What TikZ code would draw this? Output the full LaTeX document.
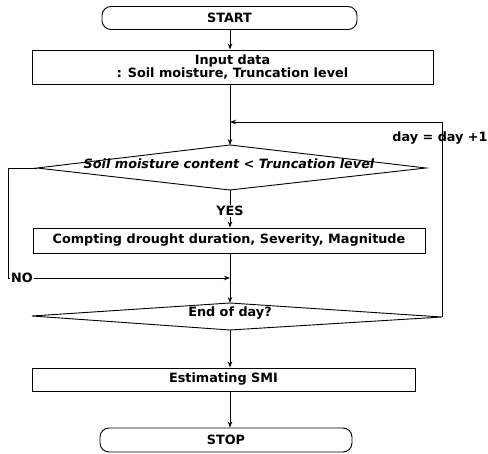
\documentclass[tikz,border=0pt]{standalone}
\usepackage{fontspec}
\setmainfont{DejaVu Sans}
\usetikzlibrary{arrows.meta}
\begin{document}
\begin{tikzpicture}[x=1pt,y=-1pt,line width=0.9pt,
  txt/.style={font=\bfseries\fontsize{12.8}{15}\selectfont,inner sep=1pt},
  box/.style={draw,txt,inner sep=0pt},
  term/.style={draw,txt,rounded corners=9pt,inner sep=0pt},
  arr/.style={-{Stealth[length=6pt,width=4.5pt]}},
  lab/.style={txt,fill=white,inner sep=1.5pt}]
\fill[white] (0,0) rectangle (488,454);
\useasboundingbox (0,0) rectangle (488,454);
% terminals and boxes
\node[term,minimum width=255pt,minimum height=23pt] (start) at (229.5,18) {START};
\node[box,minimum width=401pt,minimum height=34pt,align=center] (input) at (232.5,67) {Input data\\[-1.5pt]: Soil moisture, Truncation level};
\node[box,minimum width=392pt,minimum height=25pt] (comp) at (229,240.5) {Compting drought duration, Severity, Magnitude};
\node[box,minimum width=383pt,minimum height=23pt] (est) at (223.5,379.5) {Estimating SMI};
\node[term,minimum width=252pt,minimum height=24pt] (stop) at (226,440) {STOP};
% decision 1
\coordinate (d1t) at (230,145);
\coordinate (d1r) at (426,168);
\coordinate (d1b) at (230,190);
\coordinate (d1l) at (37,168);
\draw (d1t) -- (d1r) -- (d1b) -- (d1l) -- cycle;
\node[txt,font=\bfseries\itshape\fontsize{12.8}{15}\selectfont] (d1) at (229,164) {Soil moisture content < Truncation level};
% decision 2
\coordinate (d2t) at (230,303);
\coordinate (d2r) at (442,317);
\coordinate (d2b) at (230,330);
\coordinate (d2l) at (32,316);
\draw (d2t) -- (d2r) -- (d2b) -- (d2l) -- cycle;
\node[txt] (d2) at (230,313) {End of day?};
% helper coordinates
\coordinate (j1) at (230,122);
\coordinate (lr) at (442,122);
\coordinate (j2) at (230,278);
\coordinate (nl) at (8,168);
\coordinate (nb) at (8,278);
% connectors
\draw[arr] (start.south -| d1t) -- (input.north -| d1t);
\draw[arr] (input.south -| d1t) -- (d1t);
\draw[arr] (d2r) -- (lr) -- (j1);
\draw[arr] (d1b) -- (comp.north -| d1b);
\draw[arr] (comp.south -| d2t) -- (d2t);
\draw[arr] (d1l) -- (nl) -- (nb) -- (j2);
\draw[arr] (d2b) -- (est.north -| d2b);
\draw[arr] (est.south -| d2b) -- (stop.north -| d2b);
% labels
\node[lab] (yes) at (230,211) {YES};
\node[lab] (no) at (22,278) {NO};
\node[txt] (inc) at (440,138) {day = day +1};
\end{tikzpicture}
\end{document}
